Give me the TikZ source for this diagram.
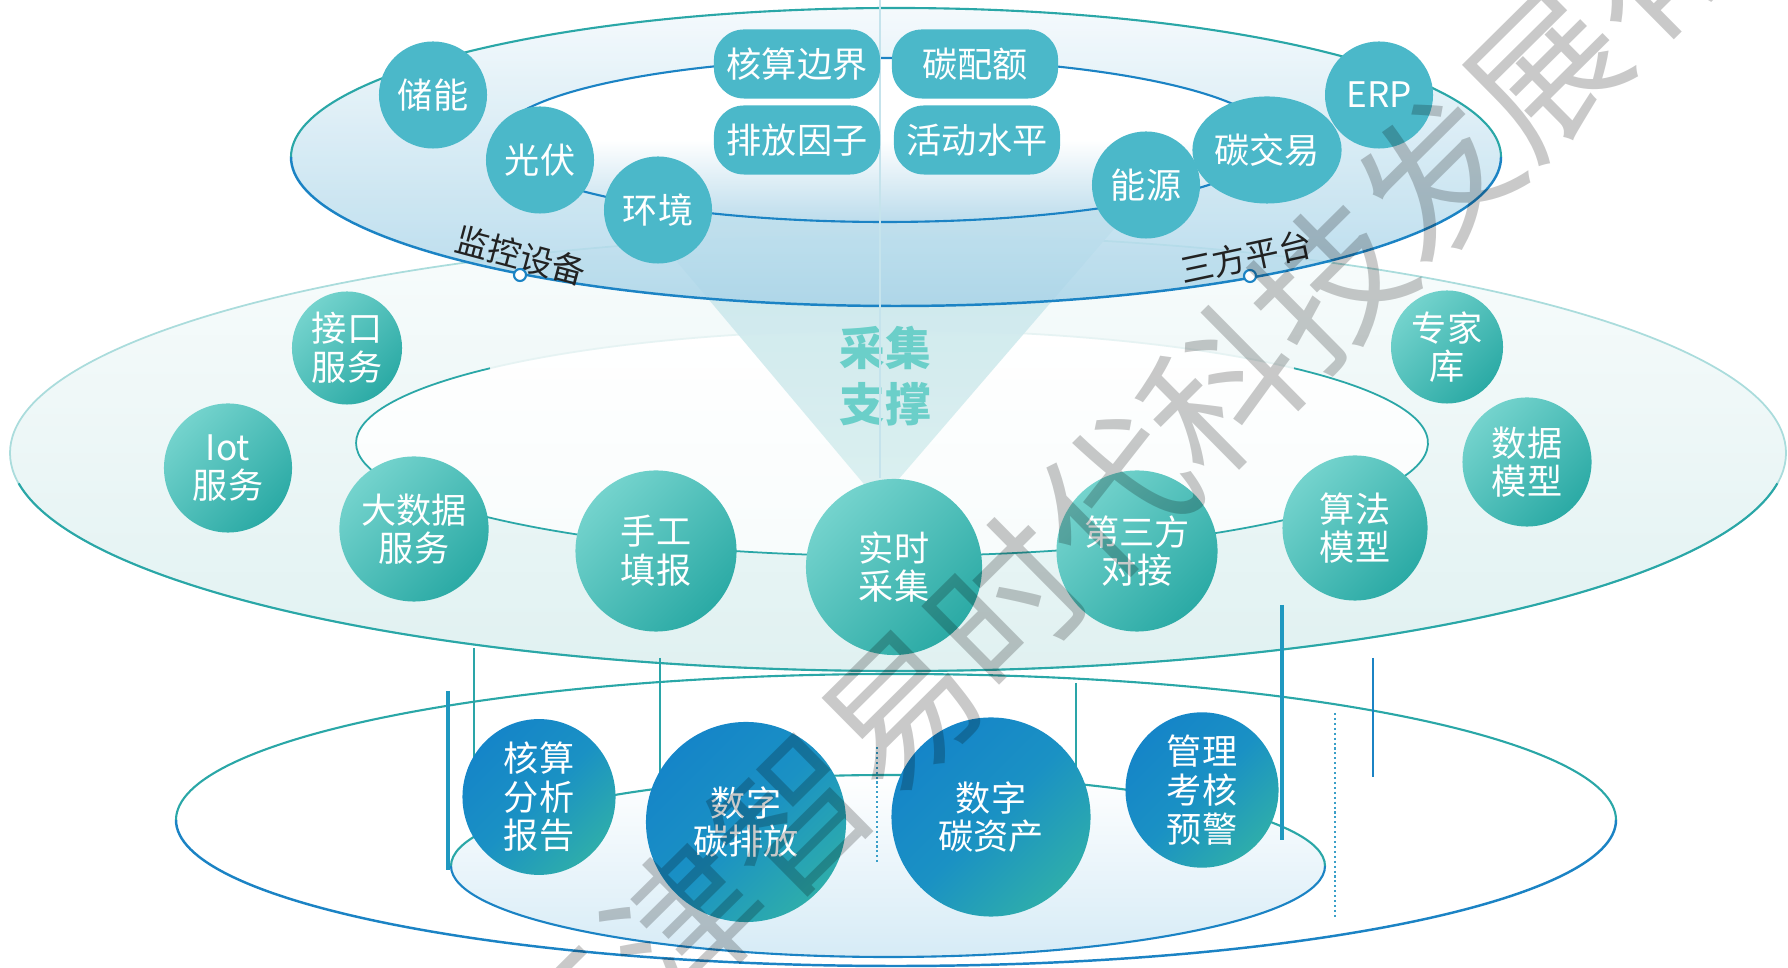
\documentclass[tikz,border=0pt]{standalone}
\usepackage{fontspec}
\newfontfamily\cjk{Noto Sans CJK SC}
\usetikzlibrary{shapes.geometric}
\definecolor{topc}{HTML}{4BB8C9}
\definecolor{midL}{HTML}{74D3CD}
\definecolor{midD}{HTML}{2BAAA5}
\definecolor{botB}{HTML}{1585C8}
\definecolor{botM}{HTML}{1A91C4}
\definecolor{botT}{HTML}{2EADAB}
\definecolor{tealline}{HTML}{2AA7A7}
\definecolor{blueline}{HTML}{1B83C4}
\definecolor{faintc}{HTML}{AADCDC}
\definecolor{faintw}{HTML}{E6F3F3}
\definecolor{topT}{HTML}{F3F9FC}
\definecolor{topB}{HTML}{A9D4E8}
\definecolor{innerB}{HTML}{BCDCEC}
\definecolor{coneT}{HTML}{C9E6EC}
\definecolor{coneB}{HTML}{DAF0F0}
\definecolor{labc}{HTML}{6BCFC9}
\definecolor{darktxt}{HTML}{222222}
\definecolor{vline}{HTML}{2AA5A8}
\definecolor{vthickc}{HTML}{1F98C0}
\definecolor{dotc}{HTML}{3A9FC8}
\definecolor{midT}{HTML}{F8FCFC}
\definecolor{midB}{HTML}{E0F1F1}
\definecolor{botInB}{HTML}{D6EBF6}
\definecolor{axisc}{HTML}{C5E3EC}
\begin{document}
\begin{tikzpicture}[x=0.01cm,y=-0.01cm,
  every node/.style={inner sep=0pt},
  txt/.style={text=white, align=center, font=\cjk\fontsize{10}{11}\selectfont},
  tcirc/.style={ellipse, fill=topc, txt, minimum width=1.08cm, minimum height=1.07cm},
  pill/.style={rectangle, rounded corners=0.3cm, fill=topc, txt, minimum width=1.66cm, minimum height=0.69cm},
  mcirc/.style={ellipse, top color=midL, bottom color=midD, shading angle=45, txt},
  bcirc/.style={ellipse, top color=botB, bottom color=botT, middle color=botM, shading angle=45, txt},
  lbl/.style={text=darktxt, font=\cjk\fontsize{9.5}{10}\selectfont},
  marker/.style={circle, draw=blueline, fill=white, line width=0.6pt, minimum size=0.12cm},
  vthin/.style={vline, line width=0.55pt},
  vthick/.style={vthickc, line width=1.2pt},
  vdot/.style={dotc, line width=0.7pt, dash pattern=on 0.6pt off 0.8pt},
]
\useasboundingbox (0,0) rectangle (1788,968);
\begin{scope}
\clip (0,0) rectangle (1788,968);

% ---------- bottom layer ----------
\shade[top color=white, bottom color=botInB] (888,866) ellipse [x radius=437, y radius=91];
\draw[tealline, line width=0.6pt] (888,866) ++(180:437 and 91) arc[start angle=180, end angle=360, x radius=437, y radius=91];
\draw[blueline, line width=0.6pt] (888,866) ++(0:437 and 91) arc[start angle=0, end angle=180, x radius=437, y radius=91];
\draw[tealline, line width=0.6pt] (896,820) ++(180:720 and 146) arc[start angle=180, end angle=360, x radius=720, y radius=146];
\draw[blueline, line width=0.7pt] (896,820) ++(0:720 and 146) arc[start angle=0, end angle=180, x radius=720, y radius=146];

% ---------- middle layer ----------
\shade[top color=midT, bottom color=midB] (898,453) ellipse [x radius=888, y radius=218];
\shade[top color=white, bottom color=midT] (892,443) ellipse [x radius=536, y radius=113];
\draw[faintc, line width=0.5pt] (898,453) ellipse [x radius=888, y radius=218];
\draw[tealline, line width=0.6pt] (898,453) ++(8:888 and 218) arc[start angle=8, end angle=172, x radius=888, y radius=218];
\draw[faintw, line width=0.5pt] (892,443) ellipse [x radius=536, y radius=113];
\draw[tealline, line width=0.5pt] (892,443) ++(-41.4:536 and 113) arc[start angle=-41.4, end angle=221.4, x radius=536, y radius=113];

% cone
\shade[top color=coneT, bottom color=coneB, opacity=0.95] (625,200) -- (1139,200) -- (879,502) -- cycle;
\node[font=\cjk\bfseries\fontsize{13}{16}\selectfont, text=labc, align=center] (cj) at (885,376) {采集\\支撑};

% vertical connectors
\coordinate (a1) at (448,691); \coordinate (a2) at (448,870);
\coordinate (b1) at (474,648); \coordinate (b2) at (474,760);
\coordinate (c1) at (660,658); \coordinate (c2) at (660,775);
\coordinate (d1) at (877,747); \coordinate (d2) at (877,863);
\coordinate (e1) at (1076,683); \coordinate (e2) at (1076,770);
\coordinate (f1) at (1282,605); \coordinate (f2) at (1282,840);
\coordinate (g1) at (1335,713); \coordinate (g2) at (1335,917);
\coordinate (h1) at (1373,658); \coordinate (h2) at (1373,777);
\draw[vthick] (a1) -- (a2);
\draw[vthin] (b1) -- (b2);
\draw[vthin] (c1) -- (c2);
\draw[vdot] (d1) -- (d2);
\draw[vthin] (e1) -- (e2);
\draw[vthick] (f1) -- (f2);
\draw[vdot] (g1) -- (g2);
\draw[blueline, line width=0.8pt] (h1) -- (h2);

% middle circles
\node[mcirc, minimum width=1.10cm, minimum height=1.13cm] (jk) at (347,348) {接口\\服务};
\node[mcirc, minimum width=1.28cm, minimum height=1.29cm] (iot) at (228,468) {Iot\\服务};
\node[mcirc, minimum width=1.45cm, minimum height=1.45cm] (dsj) at (414,529) {大数据\\服务};
\node[mcirc, minimum width=1.61cm, minimum height=1.61cm] (sg) at (656,551) {手工\\填报};
\node[mcirc, minimum width=1.76cm, minimum height=1.76cm] (ss) at (894,567) {实时\\采集};
\node[mcirc, minimum width=1.61cm, minimum height=1.61cm] (dsf) at (1137,551) {第三方\\对接};
\node[mcirc, minimum width=1.45cm, minimum height=1.45cm] (sf) at (1355,528) {算法\\模型};
\node[mcirc, minimum width=1.12cm, minimum height=1.13cm] (zj) at (1447,347) {专家\\库};
\node[mcirc, minimum width=1.29cm, minimum height=1.29cm] (sjmx) at (1527,462) {数据\\模型};

% bottom circles
\node[bcirc, minimum width=1.53cm, minimum height=1.53cm] (hs) at (539,797) {核算\\分析\\报告};
\node[bcirc, minimum width=2.00cm, minimum height=2.00cm] (pf) at (746,822) {数字\\碳排放};
\node[bcirc, minimum width=1.99cm, minimum height=1.99cm] (zc) at (991,817) {数字\\碳资产};
\node[bcirc, minimum width=1.53cm, minimum height=1.53cm] (gl) at (1202,790) {管理\\考核\\预警};

% ---------- top layer ----------
\shade[top color=topT, bottom color=topB, fill opacity=0.85] (896,157) ellipse [x radius=605, y radius=149];
\shade[top color=white, bottom color=innerB, middle color=white] (885,140) ellipse [x radius=387, y radius=82];
\draw[tealline, line width=0.6pt] (896,157) ++(180:605 and 149) arc[start angle=180, end angle=360, x radius=605, y radius=149];
\draw[blueline, line width=0.7pt] (896,157) ++(0:605 and 149) arc[start angle=0, end angle=180, x radius=605, y radius=149];
\draw[blueline, line width=0.6pt] (885,140) ellipse [x radius=387, y radius=82];
\coordinate (ax1) at (880,0); \coordinate (ax2) at (880,478);
\draw[axisc, line width=0.4pt] (ax1) -- (ax2);

\node[tcirc] (cn) at (433,95) {储能};
\node[tcirc] (gf) at (540,160) {光伏};
\node[tcirc] (hj) at (658,210) {环境};
\node[tcirc] (ny) at (1146,185) {能源};
\node[tcirc] (tjy) at (1267,150) {碳交易};
\node[tcirc] (erp) at (1379,95) {ERP};
\node[pill] (hsbj) at (797,64) {核算边界};
\node[pill] (tpe) at (975,64) {碳配额};
\node[pill] (pfyz) at (797,140) {排放因子};
\node[pill] (hdsp) at (977,140) {活动水平};

\node[lbl, rotate=-15] (lmon) at (521,256) {监控设备};
\node[lbl, rotate=12] (lthird) at (1246,257) {三方平台};
\node[marker] (m1) at (520,275) {};
\node[marker] (m2) at (1250,276) {};

% watermark
\node[rotate=44.7, font=\cjk\fontsize{43}{43}\selectfont, text=black, text opacity=0.21] (wm) at (1276,337) {天津智易时代科技发展有限公司};
\end{scope}
\end{tikzpicture}
\end{document}
